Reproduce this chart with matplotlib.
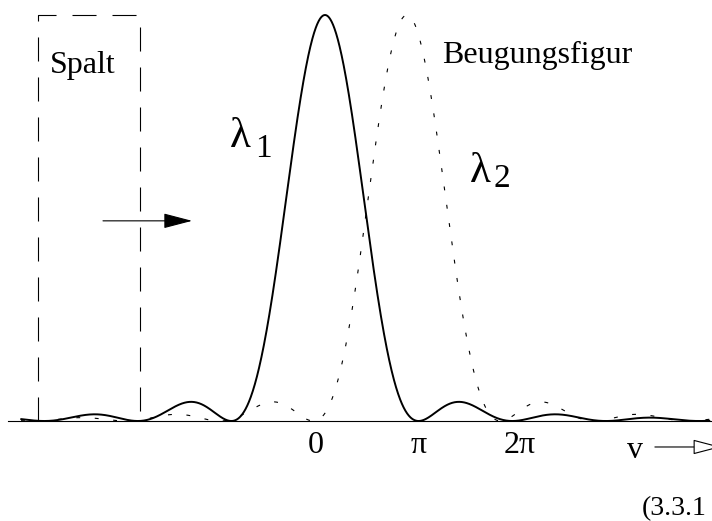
import numpy as np
import matplotlib.pyplot as plt
from matplotlib.patches import FancyArrowPatch

plt.rcParams['font.family'] = ['Liberation Serif', 'DejaVu Serif']
plt.rcParams['lines.scale_dashes'] = False

# Diffraction patterns of a single slit for two wavelengths
line_names = ["λ1", "λ2"]
line_centers = [0.0, 2.75]      # position of the main maximum in v
line_peaks = [1.0, 1.0]         # relative peak intensity
v_start, v_end = -10.2, 12.9    # drawn range of v

tick_pos = [-0.3, np.pi, 6.54]
tick_text = ["0", "π", "2π"]

# Slit outline (in v / intensity units)
slit_left, slit_right, slit_top = -9.63, -6.21, 1.0


def pattern(v, center, peak):
    # Fraunhofer single-slit intensity (sin u / u)^2
    return peak * np.sinc((v - center) / np.pi) ** 2


fig = plt.figure(figsize=(7.12, 5.21), dpi=100)
ax = fig.add_axes([0, 0, 1, 1])
ax.set_xlim(-325 / 29.8, (712 - 325) / 29.8)
ax.set_ylim(-100 / 406, 421 / 406)
ax.axis('off')

v = np.linspace(v_start, v_end, 2000)

# baseline
ax.plot([-10.64, 13.2], [0, 0], color='black', lw=0.8)

ax.plot(v, pattern(v, line_centers[0], line_peaks[0]), color='black', lw=1.4,
        solid_capstyle='round')
ax.plot(v, pattern(v, line_centers[1], line_peaks[1]), color='black', lw=0.8,
        linestyle=(0, (2.8, 10.5)))

# slit drawn as dashed outline, open at the bottom
ax.plot([slit_left, slit_left, slit_right, slit_right],
        [0, slit_top, slit_top, 0], color='black', lw=0.8,
        linestyle=(0, (17.3, 11.5)))

ax.text(-9.23, 0.857, "Spalt", fontsize=23, ha='left', va='baseline')
ax.text(3.93, 0.882, "Beugungsfigur", fontsize=23, ha='left', va='baseline')

# wavelength labels
ax.text(-3.19, 0.675, "λ", fontsize=31, ha='left', va='baseline')
ax.text(-2.35, 0.650, "1", fontsize=24, ha='left', va='baseline')
ax.text(4.87, 0.589, "λ", fontsize=31, ha='left', va='baseline')
ax.text(5.64, 0.576, "2", fontsize=24, ha='left', va='baseline')

for p, t in zip(tick_pos, tick_text):
    ax.text(p, -0.079, t, fontsize=23, ha='center', va='baseline')

# v axis arrow with open head
ax.text(10.4, -0.091, "v", fontsize=23, ha='center', va='baseline')
ax.add_patch(FancyArrowPatch((11.07, -0.064), (13.3, -0.064),
                             arrowstyle='-|>,head_length=18,head_width=4.7',
                             mutation_scale=1, lw=0.8, edgecolor='black',
                             facecolor='white', shrinkA=0, shrinkB=0))

# direction of motion of the slit
ax.add_patch(FancyArrowPatch((-7.45, 0.493), (-4.46, 0.493),
                             arrowstyle='-|>,head_length=18,head_width=4.7',
                             mutation_scale=1, lw=0.8, edgecolor='black',
                             facecolor='black', shrinkA=0, shrinkB=0))

ax.text(10.64, -0.232, "(3.3.1", fontsize=20, ha='left', va='baseline')

fig.savefig("out.png", dpi=100)
